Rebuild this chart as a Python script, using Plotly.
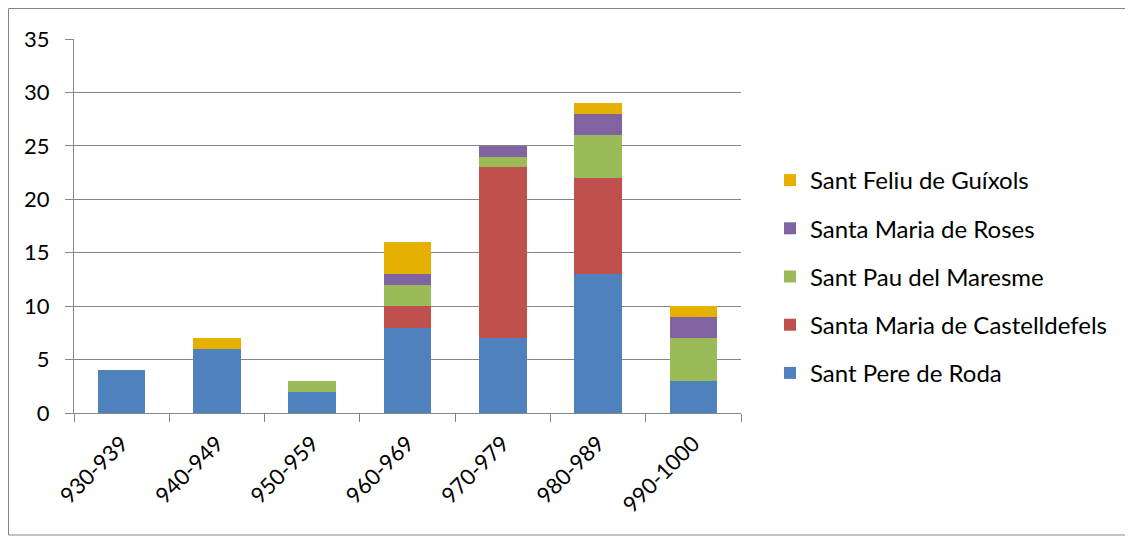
import plotly.graph_objects as go

categories = ["930-939", "940-949", "950-959", "960-969", "970-979", "980-989", "990-1000"]
sant_pere = [4, 6, 2, 8, 7, 13, 3]
santa_maria_castell = [0, 0, 0, 2, 16, 9, 0]
sant_pau = [0, 0, 1, 2, 1, 4, 4]
santa_maria_roses = [0, 0, 0, 1, 1, 2, 2]
sant_feliu = [0, 1, 0, 3, 0, 1, 1]

series = [
    ("Sant Pere de Roda", sant_pere, "#4F81BD"),
    ("Santa Maria de Castelldefels", santa_maria_castell, "#C0504D"),
    ("Sant Pau del Maresme", sant_pau, "#9BBB59"),
    ("Santa Maria de Roses", santa_maria_roses, "#8064A2"),
    ("Sant Feliu de Guíxols", sant_feliu, "#E6B000"),
]

fig = go.Figure()
n = len(series)
for i, (name, vals, col) in enumerate(series):
    fig.add_trace(go.Bar(x=categories, y=vals, name=name, marker_color=col,
                         marker_line_width=0, legendgroup="g%d" % i,
                         legendrank=1000 - i))

font = "Lato, 'Open Sans', sans-serif"
OFF = 8  # page body margin
W, H = 1133 - OFF, 538 - OFF
L, T = 74 - OFF, 39 - OFF
RX, BY = 741 - OFF, 413 - OFF
R, B = W - RX, H - BY
pw, ph = W - L - R, H - T - B

def px(x):
    return (x - OFF - L) / pw

def py(y):
    return (H - B - (y - OFF)) / ph

fig.update_layout(
    width=W, height=H,
    barmode="stack", bargap=0.5,
    margin=dict(l=L, r=R, t=T, b=B),
    plot_bgcolor="white", paper_bgcolor="white",
    font=dict(family=font, size=22, color="black"),
    legend=dict(traceorder="grouped", tracegroupgap=14,
                x=px(770), y=py(158), xanchor="left", yanchor="top",
                font=dict(size=24, family=font), itemwidth=30),
    showlegend=True,
    xaxis=dict(type="category", showline=True, linecolor="#868686", linewidth=1,
               ticks="outside", tickson="boundaries", ticklen=8, tickcolor="#868686",
               tickangle=-45, tickfont=dict(size=22, family=font), showgrid=False,
               ticklabelstandoff=8),
    yaxis=dict(range=[0, 35], dtick=5, showline=True, linecolor="#868686", linewidth=1,
               ticks="outside", ticklen=8, tickcolor="#868686",
               gridcolor="#868686", gridwidth=1, zeroline=False,
               ticklabelstandoff=11, tickfont=dict(size=22, family=font)),
    shapes=[dict(type="rect", xref="paper", yref="paper",
                 x0=px(8.5), x1=px(1132), y0=py(535), y1=py(8.5),
                 line=dict(color="#868686", width=1), fillcolor="rgba(0,0,0,0)",
                 layer="below")],
)

fig.write_html("out.html")
